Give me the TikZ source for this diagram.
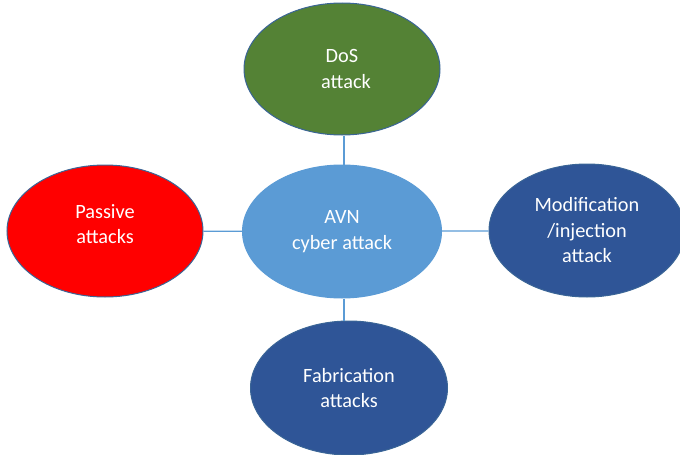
\documentclass[tikz,border=0pt]{standalone}
\usepackage{fontspec}
\setmainfont{Carlito}
\usetikzlibrary{shapes.geometric}
\definecolor{cgreen}{HTML}{548235}
\definecolor{cred}{HTML}{FF0000}
\definecolor{cdark}{HTML}{2F5597}
\definecolor{clight}{HTML}{5B9BD5}
\definecolor{cedge}{HTML}{3A6596}
\tikzset{
  bubble/.style={ellipse, draw=cedge, line width=1pt, text=white, align=center,
    inner sep=0pt, font=\fontsize{20.3}{25.5}\selectfont},
  label text/.style={text=white, align=center, font=\fontsize{20.3}{25.5}\selectfont},
  link/.style={draw=clight, line width=1.2pt}
}
\begin{document}
\begin{tikzpicture}[x=1pt,y=-1pt]
\useasboundingbox (0,0) rectangle (680,455);
\node[bubble, fill=clight, draw=clight, minimum width=199pt, minimum height=133pt] (c) at (342,231.5) {AVN\\cyber attack};
\node[bubble, fill=cgreen, minimum width=196pt, minimum height=132pt] (t) at (342,69) {DoS\\\hspace*{8pt}attack};
\node[bubble, fill=cred, minimum width=196pt, minimum height=132pt] (l) at (105,231) {};
\node[label text] (lt) at (105,224) {Passive\\attacks};
\node[bubble, fill=cdark, minimum width=196pt, minimum height=133pt] (r) at (587,230.5) {Modification\\/injection\\attack};
\node[bubble, fill=cdark, minimum width=197pt, minimum height=134pt] (b) at (349,388) {Fabrication\\attacks};
\draw[link] (c.north) ++(2,0) coordinate (cn) (cn) -- (cn |- t.south);
\draw[link] (c.south) ++(2,0) coordinate (cs) (cs) -- (cs |- b.north);
\draw[link] (c) -- (l);
\draw[link] (c) -- (r);
\end{tikzpicture}
\end{document}
